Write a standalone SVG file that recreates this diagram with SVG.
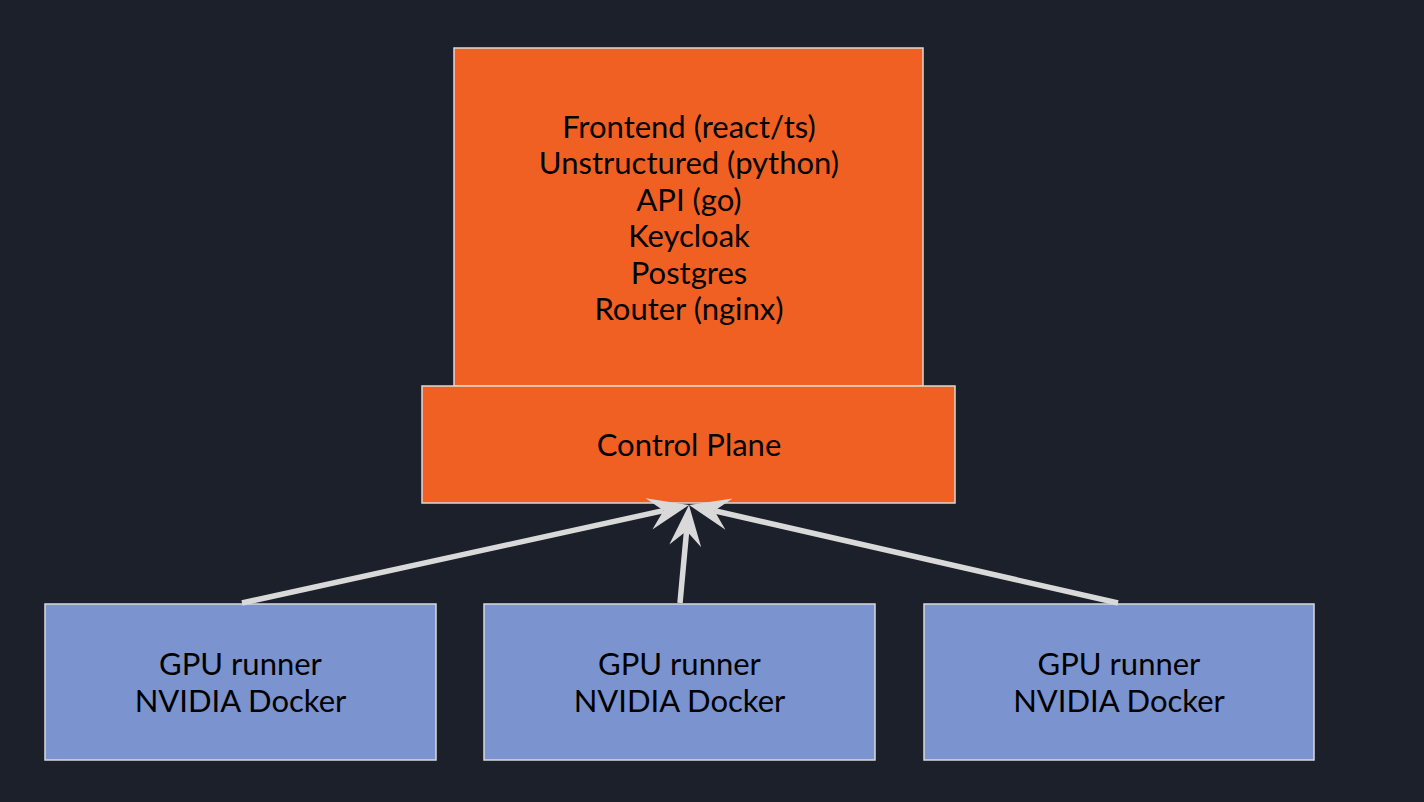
<svg xmlns="http://www.w3.org/2000/svg" width="1424" height="802" viewBox="0 0 1424 802">
<style>
.bg{fill:#1b202b}
.orange{fill:#f06023;stroke:#d9d9d9;stroke-width:1.5}
.blue{fill:#7b93cf;stroke:#d9d9d9;stroke-width:1.5}
.t{font-family:Lato,"Liberation Sans",sans-serif;font-size:31px;fill:#000;text-anchor:middle}
.edge{stroke:#d9d9d9;stroke-width:5.5;fill:none;marker-end:url(#arr)}
</style>
<defs>
<marker id="arr" markerUnits="userSpaceOnUse" orient="auto" refX="0" refY="0" markerWidth="60" markerHeight="40" viewBox="-20 -20 60 40" overflow="visible">
<path d="M26,0 L-15,-16 L0,0 L-15,16 Z" fill="#d9d9d9"/>
</marker>
</defs>
<rect class="bg" x="0" y="0" width="1424" height="802"/>
<g id="services">
<rect class="orange" x="454" y="48" width="469" height="338"/>
<text class="t" x="689" y="137.5">Frontend (react/ts)</text>
<text class="t" x="689" y="174">Unstructured (python)</text>
<text class="t" x="689" y="210.5">API (go)</text>
<text class="t" x="689" y="247">Keycloak</text>
<text class="t" x="689" y="283.5">Postgres</text>
<text class="t" x="689" y="320">Router (nginx)</text>
</g>
<g id="control-plane">
<rect class="orange" x="422" y="386" width="533" height="117"/>
<text class="t" x="689" y="456">Control Plane</text>
</g>
<g id="gpu1">
<rect class="blue" x="45" y="604" width="391" height="156"/>
<text class="t" x="240.5" y="675">GPU runner</text>
<text class="t" x="240.5" y="712">NVIDIA Docker</text>
</g>
<g id="gpu2">
<rect class="blue" x="484" y="604" width="391" height="156"/>
<text class="t" x="679.5" y="675">GPU runner</text>
<text class="t" x="679.5" y="712">NVIDIA Docker</text>
</g>
<g id="gpu3">
<rect class="blue" x="924" y="604" width="390" height="156"/>
<text class="t" x="1119" y="675">GPU runner</text>
<text class="t" x="1119" y="712">NVIDIA Docker</text>
</g>
<g id="connectors">
<line class="edge" x1="242" y1="603" x2="663.6" y2="510.6"/>
<line class="edge" x1="680" y1="603" x2="686.6" y2="530.9"/>
<line class="edge" x1="1118" y1="603" x2="714.4" y2="510.8"/>
</g>
</svg>
